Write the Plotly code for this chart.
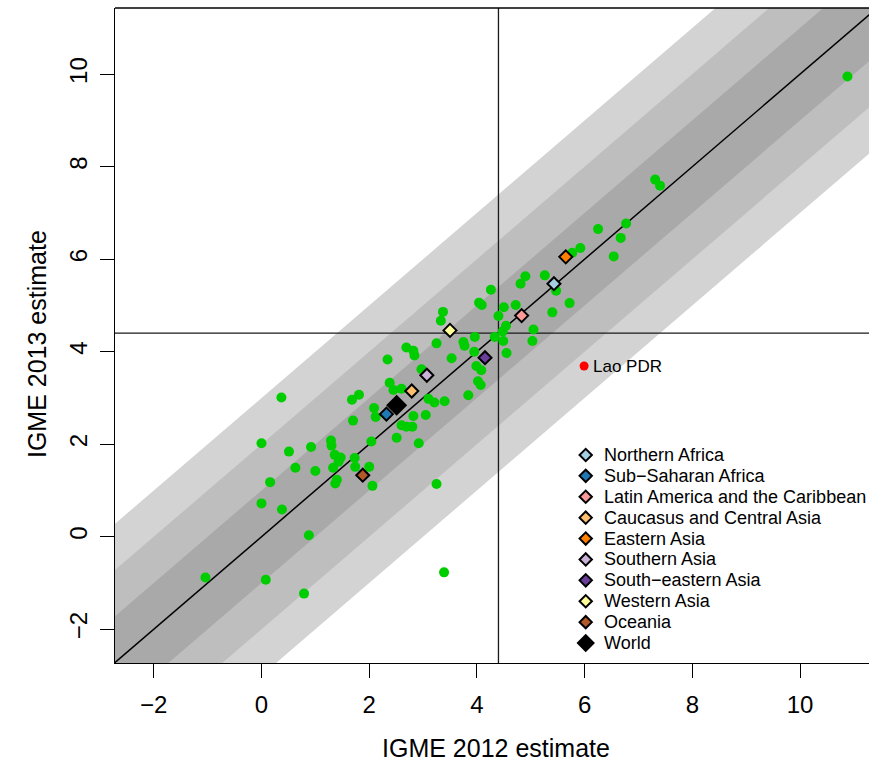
import plotly.graph_objects as go

# ---------------- data ----------------
x_label = "IGME 2012 estimate"
y_label = "IGME 2013 estimate"

country_2012 = [10.88, 7.31, 7.40, 6.25, 6.77, 6.67, 6.54, 5.92, 5.77, 4.90,
                4.81, 5.26, 5.47, 4.26, 4.09, 4.04, 4.50, 4.72, 5.72, 5.40,
                4.40, 4.54, 5.05, 4.48, 4.33, 4.49, 5.03, 4.55, 3.37, 3.33,
                3.25, 3.75, 3.77, 3.96, 2.69, 2.82, 2.84, 2.34, 3.53, 3.95,
                3.99, 4.08, 4.02, 4.07, 3.84, 2.97, 2.38, 2.45, 2.60, 3.10,
                3.21, 3.40, 2.82, 3.05, 2.60, 2.69, 2.80, 1.81, 1.68, 2.09,
                2.12, 1.70, 0.37, 2.51, 2.04, 1.29, 1.30, 0.00, 0.51, 0.92,
                1.36, 1.47, 1.43, 1.73, 0.63, 1.00, 1.33, 1.74, 2.00, 0.16,
                1.40, 1.37, 2.06, 0.00, 0.38, 0.88, -1.04, 0.08, 0.79, 3.39,
                3.25, 2.92]
country_2013 = [9.95, 7.72, 7.59, 6.65, 6.77, 6.46, 6.06, 6.24, 6.14, 5.63,
                5.47, 5.65, 5.32, 5.34, 5.01, 5.06, 4.96, 5.01, 5.05, 4.85,
                4.77, 4.56, 4.48, 4.44, 4.32, 4.23, 4.23, 3.97, 4.86, 4.67,
                4.18, 4.21, 4.13, 4.32, 4.09, 4.02, 3.92, 3.83, 3.86, 4.00,
                3.69, 3.60, 3.36, 3.28, 3.06, 3.62, 3.33, 3.17, 3.20, 2.98,
                2.90, 2.93, 2.61, 2.63, 2.41, 2.38, 2.38, 3.07, 2.96, 2.78,
                2.59, 2.51, 3.01, 2.14, 2.06, 2.08, 1.97, 2.02, 1.84, 1.94,
                1.77, 1.71, 1.62, 1.70, 1.49, 1.42, 1.49, 1.51, 1.51, 1.18,
                1.23, 1.15, 1.10, 0.72, 0.59, 0.03, -0.88, -0.93, -1.23, -0.77,
                1.14, 2.02]

outlier_names = ["Lao PDR"]
outlier_2012 = [5.99]
outlier_2013 = [3.69]

region_names = ["Northern Africa", "Sub\u2212Saharan Africa",
                "Latin America and the Caribbean", "Caucasus and Central Asia",
                "Eastern Asia", "Southern Asia", "South\u2212eastern Asia",
                "Western Asia", "Oceania", "World"]
region_2012 = [5.43, 2.32, 4.83, 2.79, 5.65, 3.07, 4.15, 3.50, 1.88, 2.51]
region_2013 = [5.47, 2.65, 4.78, 3.15, 6.05, 3.49, 3.87, 4.46, 1.33, 2.84]
region_colors = ["#A6CEE3", "#1F78B4", "#FB9A99", "#FDBF6F", "#FF7F00",
                 "#CAB2D6", "#6A3D9A", "#FFFF99", "#B15928", "#000000"]

ref_2012 = 4.4
ref_2013 = 4.4

band_offsets = [3, 2, 1]
band_colors = ["#D3D3D3", "#BEBEBE", "#A9A9A9"]

x_ticks = [-2, 0, 2, 4, 6, 8, 10]
y_ticks = [-2, 0, 2, 4, 6, 8, 10]

x_range = [-2.72, 11.28]
y_range = [-2.73, 11.43]

# ---------------- figure ----------------
FONT = "Liberation Sans, Arial, Helvetica, sans-serif"
LO, HI = -20, 30

fig = go.Figure()

for k, c in zip(band_offsets, band_colors):
    fig.add_trace(go.Scatter(
        x=[LO, HI, HI, LO], y=[LO + k, HI + k, HI - k, LO - k],
        mode="lines", fill="toself", fillcolor=c, line=dict(width=0),
        hoverinfo="skip", showlegend=False))

fig.add_trace(go.Scatter(x=[LO, HI], y=[LO, HI], mode="lines",
                         line=dict(color="black", width=1.5),
                         hoverinfo="skip", showlegend=False))
fig.add_trace(go.Scatter(x=[ref_2012, ref_2012], y=[LO, HI], mode="lines",
                         line=dict(color="#1a1a1a", width=1.3),
                         hoverinfo="skip", showlegend=False))
fig.add_trace(go.Scatter(x=[LO, HI], y=[ref_2013, ref_2013], mode="lines",
                         line=dict(color="#1a1a1a", width=1.3),
                         hoverinfo="skip", showlegend=False))

fig.add_trace(go.Scatter(x=country_2012, y=country_2013, mode="markers",
                         marker=dict(color="#00CD00", size=10, opacity=1,
                                     line=dict(width=0)),
                         name="Countries", showlegend=False))

for name, xv, yv, col in zip(region_names, region_2012, region_2013, region_colors):
    big = name == "World"
    fig.add_trace(go.Scatter(
        x=[xv], y=[yv], mode="markers", name=name, showlegend=False,
        marker=dict(symbol="diamond", color=col, size=14 if big else 10, opacity=1,
                    line=dict(color="black", width=2))))

fig.add_trace(go.Scatter(x=outlier_2012, y=outlier_2013, mode="markers",
                         marker=dict(color="#FF0000", size=9, opacity=1),
                         name="Outlier", showlegend=False))

annotations = []
for n, xv, yv in zip(outlier_names, outlier_2012, outlier_2013):
    annotations.append(dict(x=xv, y=yv, xref="x", yref="y", text=n,
                            showarrow=False, xanchor="left", yanchor="middle",
                            xshift=7, font=dict(family=FONT, size=17, color="black")))

# manual legend (overlay axes spanning the plot area)
leg_sym_x = 0.6243
leg_txt_x = 0.6455
leg_y0 = 0.3176
leg_step = 0.0319
leg_y = [leg_y0 - i * leg_step for i in range(len(region_names))]
fig.add_trace(go.Scatter(
    x=[leg_sym_x] * len(region_names), y=leg_y, xaxis="x2", yaxis="y2",
    mode="markers", showlegend=False, hoverinfo="skip",
    marker=dict(symbol="diamond", color=region_colors, opacity=1,
                size=[12 if n == "World" else 9.5 for n in region_names],
                line=dict(color="black", width=2))))
for n, yy in zip(region_names, leg_y):
    annotations.append(dict(x=leg_txt_x, y=yy, xref="paper", yref="paper", text=n,
                            showarrow=False, xanchor="left", yanchor="middle",
                            font=dict(family=FONT, size=18, color="black")))

annotations.append(dict(x=0.5053, y=-0.1298, xref="paper", yref="paper",
                        text=x_label, showarrow=False, xanchor="center",
                        yanchor="middle", font=dict(family=FONT, size=25, color="black")))
annotations.append(dict(x=-0.1034, y=0.487, xref="paper", yref="paper",
                        text=y_label, showarrow=False, xanchor="center",
                        yanchor="middle", textangle=-90,
                        font=dict(family=FONT, size=25, color="black")))

axis_common = dict(showgrid=False, zeroline=False, showline=True,
                   linecolor="black", linewidth=1.3, ticks="outside",
                   ticklen=14, tickwidth=1.3, tickcolor="black",
                   tickfont=dict(family=FONT, size=24, color="black"))

fig.update_layout(
    width=869, height=769,
    margin=dict(l=115, r=0, t=8, b=106, autoexpand=False),
    paper_bgcolor="white", plot_bgcolor="white",
    showlegend=False,
    xaxis=dict(range=x_range, tickvals=x_ticks, ticklabelstandoff=6, **axis_common),
    yaxis=dict(range=y_range, tickvals=y_ticks, tickangle=-90, ticklabelstandoff=3,
               **axis_common),
    xaxis2=dict(overlaying="x", range=[0, 1], visible=False, anchor="y2"),
    yaxis2=dict(overlaying="y", range=[0, 1], visible=False, anchor="x2"),
    annotations=annotations,
    shapes=[dict(type="line", xref="paper", yref="paper", x0=0, x1=1, y0=1, y1=1,
                 line=dict(color="black", width=1.3))],
)

fig.write_html("out.html")
